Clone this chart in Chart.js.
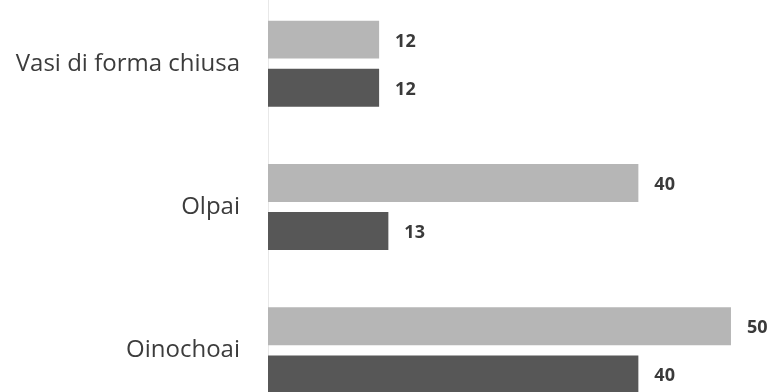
<!DOCTYPE html>
<html>
<head>
<meta charset="utf-8">
<script src="https://cdn.jsdelivr.net/npm/chart.js@4"></script>
<style>
  html, body { margin: 0; padding: 0; background: #fff; overflow: hidden; width: 774px; height: 392px; }
  #c { position: absolute; left: 0; top: -8px; }
</style>
</head>
<body>
<canvas id="c" width="774" height="430"></canvas>
<script>
const categories = ["Vasi di forma chiusa", "Olpai", "Oinochoai"];
const seriesLight = [12, 40, 50];
const seriesDark = [12, 13, 40];
const xMax = 54;

const valueLabels = {
  id: 'valueLabels',
  afterDatasetsDraw(chart) {
    const ctx = chart.ctx;
    ctx.save();
    ctx.font = 'bold 18px "Open Sans", sans-serif';
    ctx.fillStyle = '#3a3a3a';
    ctx.textAlign = 'left';
    ctx.textBaseline = 'middle';
    chart.data.datasets.forEach((ds, i) => {
      chart.getDatasetMeta(i).data.forEach((bar, j) => {
        ctx.fillText(String(ds.data[j]), bar.x + 16, bar.y + 2);
      });
    });
    ctx.restore();
  }
};

new Chart(document.getElementById('c'), {
  type: 'bar',
  data: {
    labels: categories,
    datasets: [
      { label: 'A', data: seriesLight, backgroundColor: '#b6b6b6', categoryPercentage: 0.67, barPercentage: 0.79 },
      { label: 'B', data: seriesDark, backgroundColor: '#575757', categoryPercentage: 0.67, barPercentage: 0.79 }
    ]
  },
  options: {
    indexAxis: 'y',
    responsive: false,
    animation: false,
    layout: { padding: { left: 0, right: 6, top: 0, bottom: 0 } },
    plugins: { legend: { display: false }, tooltip: { enabled: false } },
    scales: {
      x: { display: false, min: 0, max: xMax },
      y: {
        afterFit(scale) { scale.width = 268; scale.paddingTop = 0; scale.paddingBottom = 0; },
        grid: { display: false, drawTicks: false },
        border: { display: true, color: '#e8e8e8', width: 1 },
        ticks: { padding: 28, color: '#3c3c3c', font: { family: '"Open Sans", sans-serif', size: 24 } }
      }
    }
  },
  plugins: [valueLabels]
});
</script>
</body>
</html>
